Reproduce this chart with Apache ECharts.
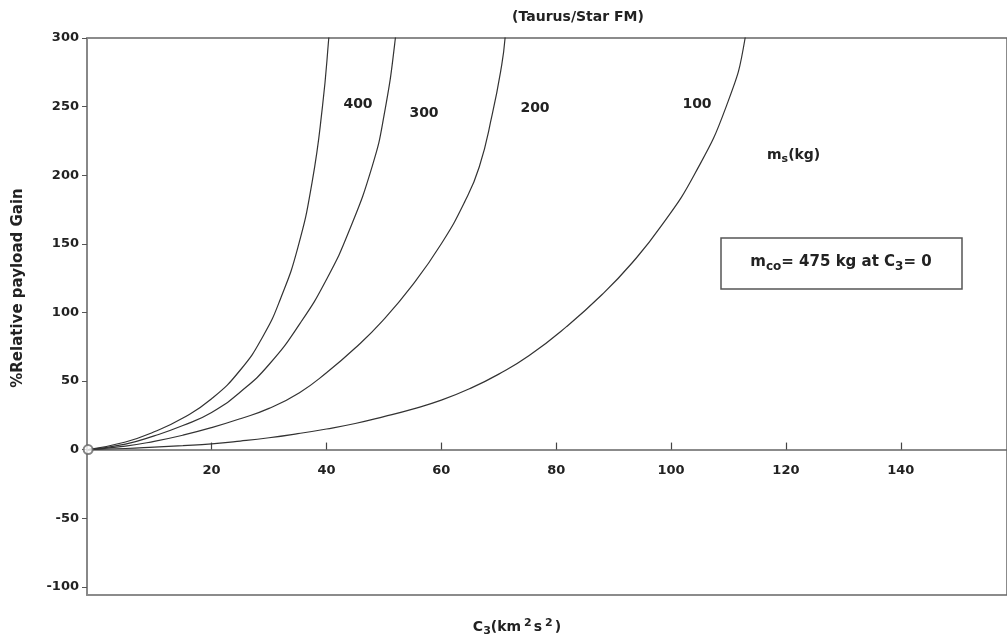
<!DOCTYPE html>
<html><head><meta charset="utf-8">
<script src="https://cdn.jsdelivr.net/npm/echarts@6/dist/echarts.min.js"></script>
<style>html,body{margin:0;padding:0;background:#fff}#c{width:1007px;height:643px}</style>
</head><body><div id="c"></div>
<script>
const xTicks = [20, 40, 60, 80, 100, 120, 140];
const yTicks = [-100, -50, 0, 50, 100, 150, 200, 250, 300];
const curveNames = ['400', '300', '200', '100'];
const c400 = [[-1.5,0],[5,5.5],[10,13],[15,23],[20,37],[25,58],[29,83],[32,110],[35,147],[37.5,195],[39.3,250],[40.4,300],[41,335]];
const c300 = [[-1.5,0],[5,4],[10,10],[15,17.5],[20,27],[25,42],[30,62],[35.4,92],[40,124],[44,160],[48,207],[50,243],[52,300],[52.6,335]];
const c200 = [[-1.5,0],[5,2.5],[10,6],[15,10.5],[20,16],[25,22.5],[30,30],[35.3,41.5],[40,56],[45,74],[49.8,94],[55,120],[60,150],[64,180],[66.6,206],[68.9,245],[70.3,275],[71.1,300],[71.5,335]];
const c100 = [[-1.5,0],[5,0.8],[10,1.8],[15,2.9],[20,4.2],[25,6.2],[30,8.6],[35,11.6],[40,15],[45,19],[50,24],[55,29.5],[60,36],[65,44.5],[70,55],[75.3,68.5],[81.8,89.6],[88,113],[93.2,136],[98.3,163],[104,200],[109.6,250],[112.9,300],[113.6,335]];
const origin = [[-1.5, 0]];

const FONT = 'DejaVu Sans';
const TXT = '#222';
const X_MIN = -1.7, X_MAX = 158.5, Y_MIN = -106, Y_MAX = 300;
const GRID_TOP = 38, GRID_BOTTOM = 48, GRID_LEFT = 87;
const zeroFromBottom = GRID_BOTTOM + (643 - GRID_TOP - GRID_BOTTOM) * (0 - Y_MIN) / (Y_MAX - Y_MIN);

const chart = echarts.init(document.getElementById('c'));
const lineSeries = (name, data) => ({
  type: 'line', name, data, smooth: 0.5, showSymbol: false, clip: true,
  lineStyle: {color: '#333', width: 1.2}, z: 3
});
const rich = (main, sub) => ({
  a: {fontFamily: FONT, fontWeight: 'bold', fontSize: main, lineHeight: main + 3, verticalAlign: 'top', fill: TXT, padding: [2, 0, 0, 0]},
  s: {fontFamily: FONT, fontWeight: 'bold', fontSize: sub, lineHeight: sub + 2, padding: [main * 0.55, 0, 0, 0], verticalAlign: 'top', fill: TXT},
  p: {fontFamily: FONT, fontWeight: 'bold', fontSize: sub, lineHeight: sub + 2, padding: [0, 2, 0, 3], verticalAlign: 'top', fill: TXT}
});
chart.setOption({
  animation: false,
  backgroundColor: '#fff',
  grid: [
    {left: GRID_LEFT, top: GRID_TOP, right: -4, bottom: GRID_BOTTOM, show: true, borderColor: '#666', borderWidth: 1.5},
    {left: GRID_LEFT, top: GRID_TOP, right: -4, bottom: zeroFromBottom, show: false}
  ],
  xAxis: [
    {type: 'value', gridIndex: 0, min: X_MIN, max: X_MAX, axisLine: {show: false}, axisTick: {show: false}, axisLabel: {show: false}, splitLine: {show: false}},
    {type: 'value', gridIndex: 1, min: X_MIN, max: X_MAX, position: 'bottom',
     axisLine: {show: true, onZero: false, lineStyle: {color: '#666', width: 1.5}},
     axisTick: {show: true, inside: true, length: 7, customValues: xTicks, lineStyle: {color: '#444', width: 1.2}},
     axisLabel: {customValues: xTicks, margin: 15, color: TXT, fontFamily: FONT, fontWeight: 'bold', fontSize: 13},
     splitLine: {show: false}}
  ],
  yAxis: [
    {type: 'value', gridIndex: 0, min: Y_MIN, max: Y_MAX,
     axisLine: {show: true, onZero: false, lineStyle: {color: '#888', width: 2}},
     axisTick: {show: true, inside: false, length: 5, customValues: yTicks, lineStyle: {color: '#555', width: 1}},
     axisLabel: {customValues: yTicks, margin: 8, color: TXT, fontFamily: FONT, fontWeight: 'bold', fontSize: 13},
     splitLine: {show: false}},
    {type: 'value', gridIndex: 1, min: 0, max: Y_MAX, show: false}
  ],
  series: [
    lineSeries(curveNames[0], c400),
    lineSeries(curveNames[1], c300),
    lineSeries(curveNames[2], c200),
    lineSeries(curveNames[3], c100),
    {type: 'scatter', data: origin, symbol: 'emptyCircle', symbolSize: 9,
     itemStyle: {color: '#666', borderColor: '#666', borderWidth: 1.3}, z: 5}
  ],
  graphic: [
    {type: 'text', x: 578, y: 17, style: {text: '(Taurus/Star FM)', font: 'bold 14px "DejaVu Sans"', fill: TXT, align: 'center', verticalAlign: 'middle'}},
    {type: 'text', x: 18, y: 288, rotation: Math.PI / 2, style: {text: '%Relative payload Gain', font: 'bold 15px "DejaVu Sans"', fill: TXT, align: 'center', verticalAlign: 'middle'}},
    {type: 'text', x: 358, y: 104, style: {text: curveNames[0], font: 'bold 14px "DejaVu Sans"', fill: TXT, align: 'center', verticalAlign: 'middle'}},
    {type: 'text', x: 424, y: 113, style: {text: curveNames[1], font: 'bold 14px "DejaVu Sans"', fill: TXT, align: 'center', verticalAlign: 'middle'}},
    {type: 'text', x: 535, y: 108, style: {text: curveNames[2], font: 'bold 14px "DejaVu Sans"', fill: TXT, align: 'center', verticalAlign: 'middle'}},
    {type: 'text', x: 697, y: 104, style: {text: curveNames[3], font: 'bold 14px "DejaVu Sans"', fill: TXT, align: 'center', verticalAlign: 'middle'}},
    {type: 'text', x: 767, y: 146, style: {text: '{a|m}{s|s}{a|(kg)}', rich: rich(14, 11)}},
    {type: 'rect', shape: {x: 721, y: 238, width: 241, height: 51}, style: {fill: '#fff', stroke: '#555', lineWidth: 1.5}, z: 10},
    {type: 'text', x: 841, y: 253, z: 11, style: {text: '{a|m}{s|co}{a|= 475 kg at C}{s|3}{a|= 0}', align: 'center', rich: rich(15, 12)}},
    {type: 'text', x: 517, y: 618, style: {text: '{a|C}{s|3}{a|(km}{p|2}{a|s}{p|2}{a|)}', align: 'center', rich: rich(14, 11)}}
  ]
});
</script></body></html>
